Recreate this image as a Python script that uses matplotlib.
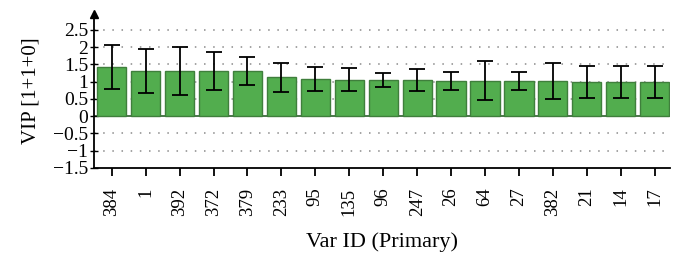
import numpy as np
import matplotlib
matplotlib.use("Agg")
import matplotlib.pyplot as plt

# Données
var_ids = ["384", "1", "392", "372", "379", "233", "95", "135", "96",
           "247", "26", "64", "27", "382", "21", "14", "17"]
vip = [1.42, 1.32, 1.31, 1.31, 1.31, 1.13, 1.08, 1.06, 1.05,
       1.05, 1.02, 1.03, 1.02, 1.02, 0.99, 0.99, 0.99]
vip_err = [0.64, 0.64, 0.69, 0.54, 0.40, 0.42, 0.35, 0.34, 0.20,
           0.33, 0.26, 0.56, 0.26, 0.52, 0.46, 0.46, 0.46]
y_ticks = [-1.5, -1, -0.5, 0, 0.5, 1, 1.5, 2, 2.5]
y_labels = ["\u22121.5", "\u22121", "\u22120.5", "0", "0.5", "1", "1.5", "2", "2.5"]

plt.rcParams["font.family"] = ["Liberation Serif", "DejaVu Serif"]

fig = plt.figure(figsize=(6.84, 2.62), dpi=100)
ax = fig.add_axes([0.137, 0.359, 0.843, 0.586])

x = np.arange(len(var_ids))

# Grille pointillée
for yv in y_ticks[1:]:
    if yv == 0:
        continue
    ax.axhline(yv, color="#8a8a8a", linestyle=(0, (1, 5)), linewidth=1.1, zorder=0)

ax.bar(x, vip, width=0.86, color="#52AD4E", edgecolor="#3F7F3C", linewidth=1.0, zorder=2)
ax.errorbar(x, vip, yerr=vip_err, fmt="none", ecolor="black", elinewidth=1.3,
            capsize=6, capthick=1.3, zorder=3)
ax.axhline(0, color="#2f5f2d", linewidth=1.2, zorder=1)

ax.set_xlim(-0.53, 16.46)
ax.set_ylim(-1.5, 2.95)

ax.spines["top"].set_visible(False)
ax.spines["right"].set_visible(False)
ax.spines["left"].set_linewidth(1.3)
ax.spines["bottom"].set_linewidth(1.3)

# Flèche en haut de l'axe Y
ax.plot(0, 1, marker="^", color="black", markersize=6, transform=ax.transAxes,
        clip_on=False, zorder=5)

ax.set_yticks(y_ticks)
ax.set_yticklabels(y_labels, fontsize=14)
ax.tick_params(axis="y", direction="inout", length=6, width=1.0, pad=1)
ax.set_xticks(x)
ax.set_xticklabels(var_ids, rotation=90, fontsize=13.5)
ax.tick_params(axis="x", direction="out", length=6, width=1.3, pad=8)

ax.set_xlabel("Var ID (Primary)", fontsize=16, labelpad=12)
ax.set_ylabel("VIP [1+1+0]", fontsize=15, labelpad=9)

fig.savefig("out.png", dpi=100)
